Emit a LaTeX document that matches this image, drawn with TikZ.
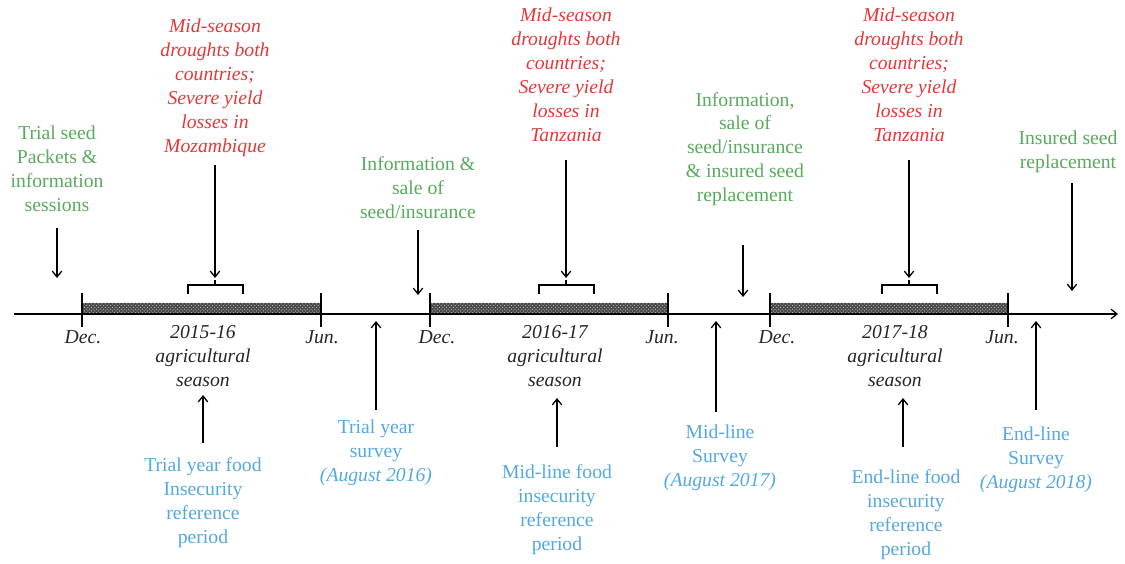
\documentclass[tikz,border=0pt]{standalone}
\usepackage{fontspec}
\setmainfont{Liberation Serif}
\usetikzlibrary{arrows.meta,patterns}
\definecolor{redt}{RGB}{228,56,56}
\definecolor{greent}{RGB}{88,170,92}
\definecolor{bluet}{RGB}{84,168,226}
\tikzset{
  lbl/.style={align=center,inner sep=0pt,font=\fontsize{16.8}{20.4}\selectfont},
  redlbl/.style={lbl,text=redt,font=\fontsize{16.8}{20.4}\selectfont\itshape},
  greenlbl/.style={lbl,text=greent},
  bluelbl/.style={lbl,text=bluet},
  blacklbl/.style={lbl,text=black!85,font=\fontsize{16.8}{20.4}\selectfont\itshape},
  arr/.style={line width=1.1pt,-{Straight Barb[length=5pt,width=8pt,line width=1.1pt]}},
  tick/.style={line width=1.1pt},
}
\begin{document}
\begin{tikzpicture}[x=0.03cm,y=-0.03cm]
\useasboundingbox (0,0) rectangle (1125,564);
% season bars
\foreach \a/\b [count=\i] in {82/321,430/668,770/1008}{
  \fill[black!72] (\a,302.5) rectangle (\b,314);
  \fill[pattern=crosshatch dots,pattern color=white!80!black] (\a,302.5) rectangle (\b,314);
  \draw[tick] (\a,293) -- (\a,327);
  \draw[tick] (\b,293) -- (\b,327);
}
% axis
\coordinate (axs) at (14,314);
\coordinate (axe) at (1118,314);
\draw[arr] (axs) -- (axe);
% months
\node[blacklbl] (m1) at (83,337) {Dec.};
\node[blacklbl] (m2) at (322,337) {Jun.};
\node[blacklbl] (m3) at (437,337) {Dec.};
\node[blacklbl] (m4) at (662,337) {Jun.};
\node[blacklbl] (m5) at (777,337) {Dec.};
\node[blacklbl] (m6) at (1002,337) {Jun.};
% seasons
\node[blacklbl] (s1) at (203,356) {2015-16\\agricultural\\season};
\node[blacklbl] (s2) at (555,356) {2016-17\\agricultural\\season};
\node[blacklbl] (s3) at (895,356) {2017-18\\agricultural\\season};
% braces
\foreach \c [count=\i] in {215,566,909}{
  \draw[tick] (\c-27,294) -- (\c-27,285) -- (\c+28,285) -- (\c+28,294);
  \draw[tick] (\c,285) -- (\c,280);
  \coordinate (br\i) at (\c,278);
}
% red texts
\node[redlbl] (r1) at (215,88) {Mid-season\\droughts both\\countries;\\Severe yield\\losses in\\Mozambique};
\node[redlbl] (r2) at (566,75) {Mid-season\\droughts both\\countries;\\Severe yield\\losses in\\Tanzania};
\node[redlbl] (r3) at (909,75) {Mid-season\\droughts both\\countries;\\Severe yield\\losses in\\Tanzania};
\coordinate (r1a) at (215,165);
\coordinate (r2a) at (566,160);
\coordinate (r3a) at (909,160);
\draw[arr] (r1a) -- (br1);
\draw[arr] (r2a) -- (br2);
\draw[arr] (r3a) -- (br3);
% green texts
\node[greenlbl] (g1) at (57,169) {Trial seed\\Packets \&\\information\\sessions};
\node[greenlbl] (g2) at (418,188) {Information \&\\sale of\\seed/insurance};
\node[greenlbl] (g3) at (745,149) {Information,\\sale of\\seed/insurance\\\& insured seed\\replacement};
\node[greenlbl] (g4) at (1068,152) {Insured seed\\replacement};
\coordinate (g1s) at (57,228); \coordinate (g1e) at (57,278);
\coordinate (g2s) at (418,230); \coordinate (g2e) at (418,295);
\coordinate (g3s) at (743,245); \coordinate (g3e) at (743,297);
\coordinate (g4s) at (1072,183); \coordinate (g4e) at (1072,291);
\draw[arr] (g1s) -- (g1e);
\draw[arr] (g2s) -- (g2e);
\draw[arr] (g3s) -- (g3e);
\draw[arr] (g4s) -- (g4e);
% blue texts
\node[bluelbl] (b1) at (203,503) {Trial year food\\Insecurity\\reference\\period};
\node[bluelbl] (b2) at (376,453) {Trial year\\survey\\{\itshape(August 2016)}};
\node[bluelbl] (b3) at (557,510) {Mid-line food\\insecurity\\reference\\period};
\node[bluelbl] (b4) at (720,458) {Mid-line\\Survey\\{\itshape(August 2017)}};
\node[bluelbl] (b5) at (906,515) {End-line food\\insecurity\\reference\\period};
\node[bluelbl] (b6) at (1036,460) {End-line\\Survey\\{\itshape(August 2018)}};
\coordinate (b1s) at (203,443); \coordinate (b1e) at (203,395);
\coordinate (b2s) at (376,410); \coordinate (b2e) at (376,321);
\coordinate (b3s) at (557,447); \coordinate (b3e) at (557,398);
\coordinate (b4s) at (716,412); \coordinate (b4e) at (716,321);
\coordinate (b5s) at (903,447); \coordinate (b5e) at (903,398);
\coordinate (b6s) at (1036,410); \coordinate (b6e) at (1036,321);
\foreach \i in {1,...,6}{\draw[arr] (b\i s) -- (b\i e);}
\end{tikzpicture}
\end{document}
